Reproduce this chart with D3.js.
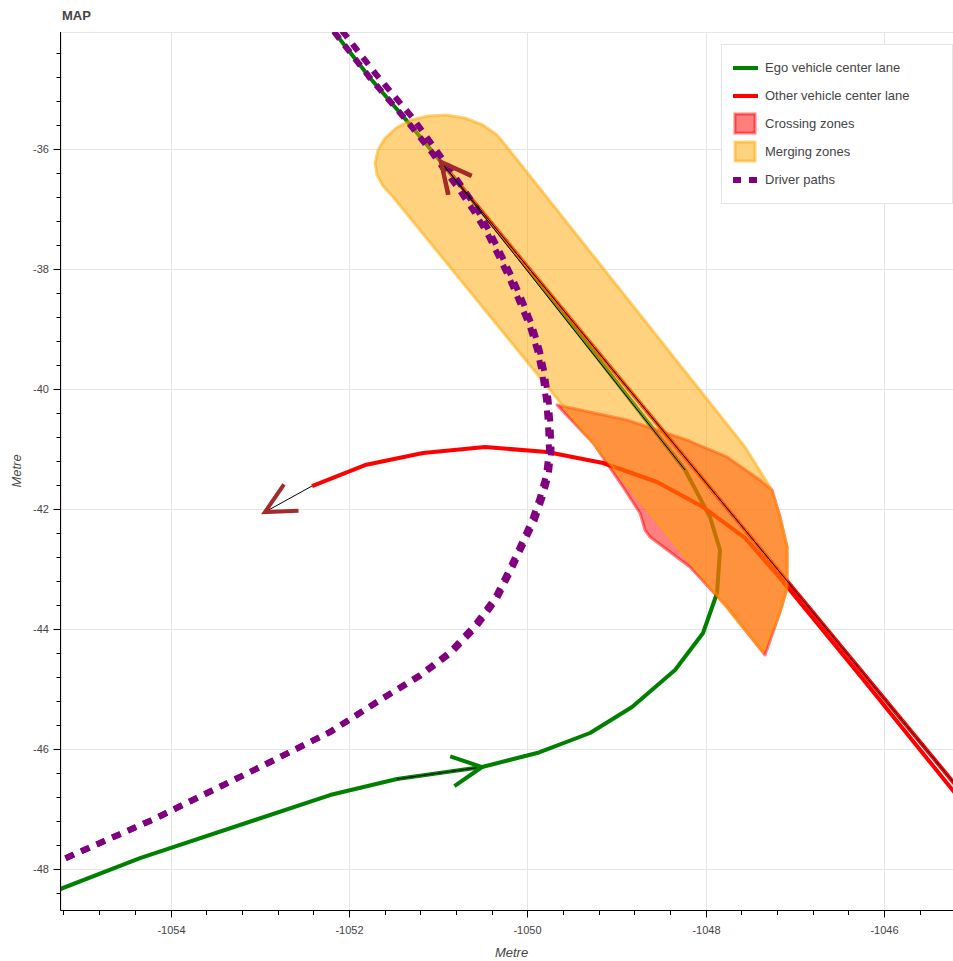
<!DOCTYPE html>
<html><head><meta charset="utf-8">
<script src="https://cdn.jsdelivr.net/npm/d3@7"></script>
<style>
html,body{margin:0;padding:0;background:#fff;}
svg{display:block;font-family:"Liberation Sans",Helvetica,Arial,sans-serif;}
</style></head><body>
<svg id="chart" width="953" height="961"></svg>
<script>
// ---------------- data ----------------
const chartTitle = "MAP";
const xAxisLabel = "Metre";
const yAxisLabel = "Metre";
const xDomain = [-1055.228, -1045.127];
const yDomain = [-48.683, -34.05];
const xTickValues = [-1054, -1052, -1050, -1048, -1046];
const yTickValues = [-48, -46, -44, -42, -40, -38, -36];

const legendLabels = ["Ego vehicle center lane", "Other vehicle center lane", "Crossing zones", "Merging zones", "Driver paths"];

// Ego vehicle center lane
const egoLaneX = [-1055.351, -1054.342, -1053.053, -1052.212, -1051.461, -1050.508, -1049.891, -1049.297, -1048.826, -1048.344, -1048.030, -1047.873, -1047.840, -1047.952, -1048.232, -1049.185, -1050.160, -1050.967, -1051.349, -1051.763, -1052.156, -1052.346];
const egoLaneY = [-48.400, -47.817, -47.183, -46.767, -46.500, -46.300, -46.067, -45.733, -45.300, -44.683, -44.067, -43.400, -42.683, -42.133, -41.350, -39.533, -37.683, -36.217, -35.533, -34.817, -34.067, -33.717];

// Other vehicle center lanes
const otherLaneStraightX = [-1045.059, -1047.375, -1050.967];
const otherLaneStraightY = [-46.850, -42.683, -36.217];
const otherLaneTurnX = [-1045.115, -1046.248, -1047.167, -1047.559, -1048.030, -1048.546, -1049.151, -1049.779, -1050.474, -1051.169, -1051.819, -1052.414];
const otherLaneTurnY = [-46.900, -44.817, -43.150, -42.483, -41.967, -41.550, -41.233, -41.050, -40.967, -41.067, -41.267, -41.617];

// Crossing zone polygon
const crossingZoneX = [-1049.667, -1048.882, -1048.210, -1047.761, -1047.391, -1047.257, -1047.167, -1047.088, -1047.088, -1047.167, -1047.335, -1047.761, -1048.176, -1048.624, -1048.680, -1048.737, -1048.927, -1049.263];
const crossingZoneY = [-40.267, -40.517, -40.850, -41.133, -41.517, -41.683, -42.133, -42.633, -43.317, -43.717, -44.433, -43.633, -42.967, -42.467, -42.350, -42.067, -41.633, -40.900];

// Merging zone polygon
const mergingZoneX = [-1051.707, -1051.674, -1051.595, -1051.472, -1051.304, -1051.113, -1050.911, -1050.698, -1050.497, -1050.340, -1050.228, -1047.559, -1047.279, -1047.167, -1047.088, -1047.088, -1047.167, -1047.358, -1051.506, -1051.618, -1051.685];
const mergingZoneY = [-36.233, -36.017, -35.817, -35.650, -35.517, -35.450, -35.433, -35.483, -35.600, -35.767, -35.967, -40.967, -41.633, -42.133, -42.633, -43.317, -43.717, -44.383, -36.800, -36.617, -36.433];

// Driver paths (listed from the bottom-left start)
const driverPath1X = [-1055.351, -1054.207, -1053.109, -1052.212, -1051.651, -1051.203, -1050.867, -1050.586, -1050.362, -1050.194, -1050.048, -1049.947, -1049.858, -1049.790, -1049.757, -1049.768, -1049.790, -1049.835, -1049.891, -1049.970, -1050.082, -1050.194, -1050.317, -1050.452, -1050.609, -1050.777, -1050.945, -1051.091, -1051.349, -1051.763, -1052.156, -1052.346];
const driverPath1Y = [-47.933, -47.183, -46.383, -45.717, -45.183, -44.767, -44.383, -43.933, -43.483, -42.983, -42.517, -42.183, -41.800, -41.433, -41.017, -40.600, -40.183, -39.733, -39.350, -38.967, -38.567, -38.183, -37.800, -37.400, -37.017, -36.650, -36.317, -36.017, -35.533, -34.817, -34.067, -33.717];
const driverPath2X = [-1055.351, -1054.207, -1053.109, -1052.212, -1051.651, -1051.195, -1050.856, -1050.568, -1050.344, -1050.174, -1050.028, -1049.920, -1049.831, -1049.762, -1049.729, -1049.740, -1049.762, -1049.807, -1049.864, -1049.943, -1050.050, -1050.163, -1050.288, -1050.423, -1050.572, -1050.740, -1050.900, -1051.046, -1051.293, -1051.703, -1052.095, -1052.286];
const driverPath2Y = [-47.933, -47.183, -46.383, -45.717, -45.183, -44.775, -44.400, -43.953, -43.503, -42.997, -42.530, -42.197, -41.813, -41.442, -41.017, -40.600, -40.180, -39.727, -39.338, -38.953, -38.547, -38.163, -37.775, -37.375, -36.978, -36.612, -36.275, -35.967, -35.467, -34.743, -33.993, -33.643];

// Direction arrows (start -> end)
const arrowStartX = [-1048.232, -1045.059, -1052.414, -1051.461];
const arrowStartY = [-41.350, -46.850, -41.617, -46.500];
const arrowEndX = [-1050.967, -1050.967, -1052.941, -1050.508];
const arrowEndY = [-36.217, -36.217, -42.050, -46.300];

// ---------------- drawing ----------------
const svg = d3.select("#chart");
const plot = {left: 61, top: 32, right: 962, bottom: 910};
const x = d3.scaleLinear().domain(xDomain).range([plot.left, plot.right]);
const y = d3.scaleLinear().domain(yDomain).range([plot.bottom, plot.top]);
const zip = (xs, ys) => xs.map((v, i) => [v, ys[i]]);
const line = d3.line().x(d => x(d[0])).y(d => y(d[1]));

svg.append("defs").append("clipPath").attr("id", "clip")
  .append("rect").attr("x", plot.left).attr("y", plot.top)
  .attr("width", plot.right - plot.left).attr("height", plot.bottom - plot.top);

// grid
const grid = svg.append("g").attr("stroke", "#e5e5e5").attr("stroke-width", 1);
xTickValues.forEach(v => grid.append("line")
  .attr("x1", Math.round(x(v)) + 0.5).attr("x2", Math.round(x(v)) + 0.5)
  .attr("y1", plot.top).attr("y2", plot.bottom));
yTickValues.forEach(v => grid.append("line")
  .attr("y1", Math.round(y(v)) + 0.5).attr("y2", Math.round(y(v)) + 0.5)
  .attr("x1", plot.left).attr("x2", plot.right));
svg.append("rect").attr("x", plot.left + 0.5).attr("y", plot.top + 0.5)
  .attr("width", plot.right - plot.left).attr("height", plot.bottom - plot.top)
  .attr("fill", "none").attr("stroke", "#e5e5e5");

const g = svg.append("g").attr("clip-path", "url(#clip)");

// lanes
g.append("path").attr("d", line(zip(egoLaneX, egoLaneY)))
  .attr("fill", "none").attr("stroke", "#008000").attr("stroke-width", 4).attr("stroke-linejoin", "round");
g.append("path").attr("d", line(zip(otherLaneTurnX, otherLaneTurnY)))
  .attr("fill", "none").attr("stroke", "#ff0000").attr("stroke-width", 4).attr("stroke-linejoin", "round");
g.append("path").attr("d", line(zip(otherLaneStraightX, otherLaneStraightY)))
  .attr("fill", "none").attr("stroke", "#ff0000").attr("stroke-width", 4).attr("stroke-linejoin", "round");

// zones
g.append("path").attr("d", line(zip(crossingZoneX, crossingZoneY)) + "Z")
  .attr("fill", "#ff0000").attr("fill-opacity", 0.5)
  .attr("stroke", "#ff0000").attr("stroke-opacity", 0.5).attr("stroke-width", 3).attr("stroke-linejoin", "round");
g.append("path").attr("d", line(zip(mergingZoneX, mergingZoneY)) + "Z")
  .attr("fill", "#ffa500").attr("fill-opacity", 0.5)
  .attr("stroke", "#ffa500").attr("stroke-opacity", 0.5).attr("stroke-width", 3).attr("stroke-linejoin", "round");

// driver paths
[[driverPath1X, driverPath1Y], [driverPath2X, driverPath2Y]].forEach(([xs, ys]) => {
  g.append("path").attr("d", line(zip(xs, ys)))
    .attr("fill", "none").attr("stroke", "#800080").attr("stroke-width", 6)
    .attr("stroke-dasharray", "9,8");
});

// arrows
const headColors = ["#a52a2a", "#a52a2a", "#a52a2a", "#008000"];
const headSize = 30;
arrowStartX.forEach((sx, i) => {
  const x0 = x(sx), y0 = y(arrowStartY[i]), x1 = x(arrowEndX[i]), y1 = y(arrowEndY[i]);
  g.append("line").attr("x1", x0).attr("y1", y0).attr("x2", x1).attr("y2", y1)
    .attr("stroke", "#000").attr("stroke-width", 1);
  const len = Math.hypot(x0 - x1, y0 - y1);
  const bx = (x0 - x1) / len, by = (y0 - y1) / len;
  const nx = -by, ny = bx;
  const a1 = [x1 + bx * headSize + nx * headSize / 2, y1 + by * headSize + ny * headSize / 2];
  const a2 = [x1 + bx * headSize - nx * headSize / 2, y1 + by * headSize - ny * headSize / 2];
  g.append("path").attr("d", `M${a1[0]},${a1[1]}L${x1},${y1}L${a2[0]},${a2[1]}`)
    .attr("fill", "none").attr("stroke", headColors[i]).attr("stroke-width", 4)
    .attr("stroke-linejoin", "miter");
});

// axes
const axisColor = "#000";
const textColor = "#444";
const ax = svg.append("g");
ax.append("line").attr("x1", plot.left - 0.5).attr("x2", plot.left - 0.5)
  .attr("y1", plot.top).attr("y2", plot.bottom + 0.5).attr("stroke", axisColor);
ax.append("line").attr("x1", plot.left - 0.5).attr("x2", plot.right)
  .attr("y1", plot.bottom + 0.5).attr("y2", plot.bottom + 0.5).attr("stroke", axisColor);

const yMinor = d3.range(-48.4, -34.0, 0.4).filter(v => v > yDomain[0] && v < yDomain[1]);
const xMinor = d3.range(-1055.2, -1045.1, 0.4).filter(v => v > xDomain[0] && v < xDomain[1]);
yMinor.forEach(v => ax.append("line").attr("x1", plot.left - 4.5).attr("x2", plot.left)
  .attr("y1", Math.round(y(v)) + 0.5).attr("y2", Math.round(y(v)) + 0.5).attr("stroke", axisColor));
xMinor.forEach(v => ax.append("line").attr("y1", plot.bottom).attr("y2", plot.bottom + 5)
  .attr("x1", Math.round(x(v)) + 0.5).attr("x2", Math.round(x(v)) + 0.5).attr("stroke", axisColor));
yTickValues.forEach(v => {
  const py = Math.round(y(v)) + 0.5;
  ax.append("line").attr("x1", plot.left - 7.5).attr("x2", plot.left).attr("y1", py).attr("y2", py).attr("stroke", axisColor);
  ax.append("text").attr("x", 49).attr("y", py).attr("dy", "0.35em")
    .attr("text-anchor", "end").attr("font-size", 11).attr("fill", textColor).text(String(v));
});
xTickValues.forEach(v => {
  const px = Math.round(x(v)) + 0.5;
  ax.append("line").attr("y1", plot.bottom).attr("y2", plot.bottom + 7.5).attr("x1", px).attr("x2", px).attr("stroke", axisColor);
  ax.append("text").attr("x", px).attr("y", 934)
    .attr("text-anchor", "middle").attr("font-size", 11).attr("fill", textColor).text(String(v));
});
svg.append("text").attr("x", (plot.left + plot.right) / 2).attr("y", 957)
  .attr("text-anchor", "middle").attr("font-size", 13).attr("font-style", "italic")
  .attr("fill", textColor).text(xAxisLabel);
svg.append("text").attr("transform", `translate(21,${(plot.top + plot.bottom) / 2}) rotate(-90)`)
  .attr("text-anchor", "middle").attr("font-size", 13).attr("font-style", "italic")
  .attr("fill", textColor).text(yAxisLabel);

// title
svg.append("text").attr("x", 62).attr("y", 20).attr("font-size", 13).attr("font-weight", "bold")
  .attr("fill", textColor).text(chartTitle);

// legend
const lg = svg.append("g");
lg.append("rect").attr("x", 721.5).attr("y", 44.5).attr("width", 231).attr("height", 159)
  .attr("fill", "#fff").attr("fill-opacity", 0.95).attr("stroke", "#e5e5e5");
const rowY0 = 67, rowStep = 28, gx0 = 733, gx1 = 758;
legendLabels.forEach((lab, i) => {
  const cy = rowY0 + i * rowStep;
  if (i === 0 || i === 1) {
    lg.append("line").attr("x1", gx0).attr("x2", gx1).attr("y1", cy + 1).attr("y2", cy + 1)
      .attr("stroke", i === 0 ? "#008000" : "#ff0000").attr("stroke-width", 4);
  } else if (i === 2 || i === 3) {
    const c = i === 2 ? "#ff0000" : "#ffa500";
    lg.append("rect").attr("x", gx0 + 2).attr("y", cy - 9).attr("width", 20).attr("height", 19)
      .attr("fill", c).attr("fill-opacity", 0.5).attr("stroke", c).attr("stroke-opacity", 0.5).attr("stroke-width", 3);
  } else {
    lg.append("line").attr("x1", gx0).attr("x2", gx1).attr("y1", cy + 1).attr("y2", cy + 1)
      .attr("stroke", "#800080").attr("stroke-width", 6).attr("stroke-dasharray", "8,8");
  }
  lg.append("text").attr("x", 765).attr("y", cy).attr("dy", "0.35em").attr("font-size", 13)
    .attr("fill", textColor).text(lab);
});
</script>
</body></html>
